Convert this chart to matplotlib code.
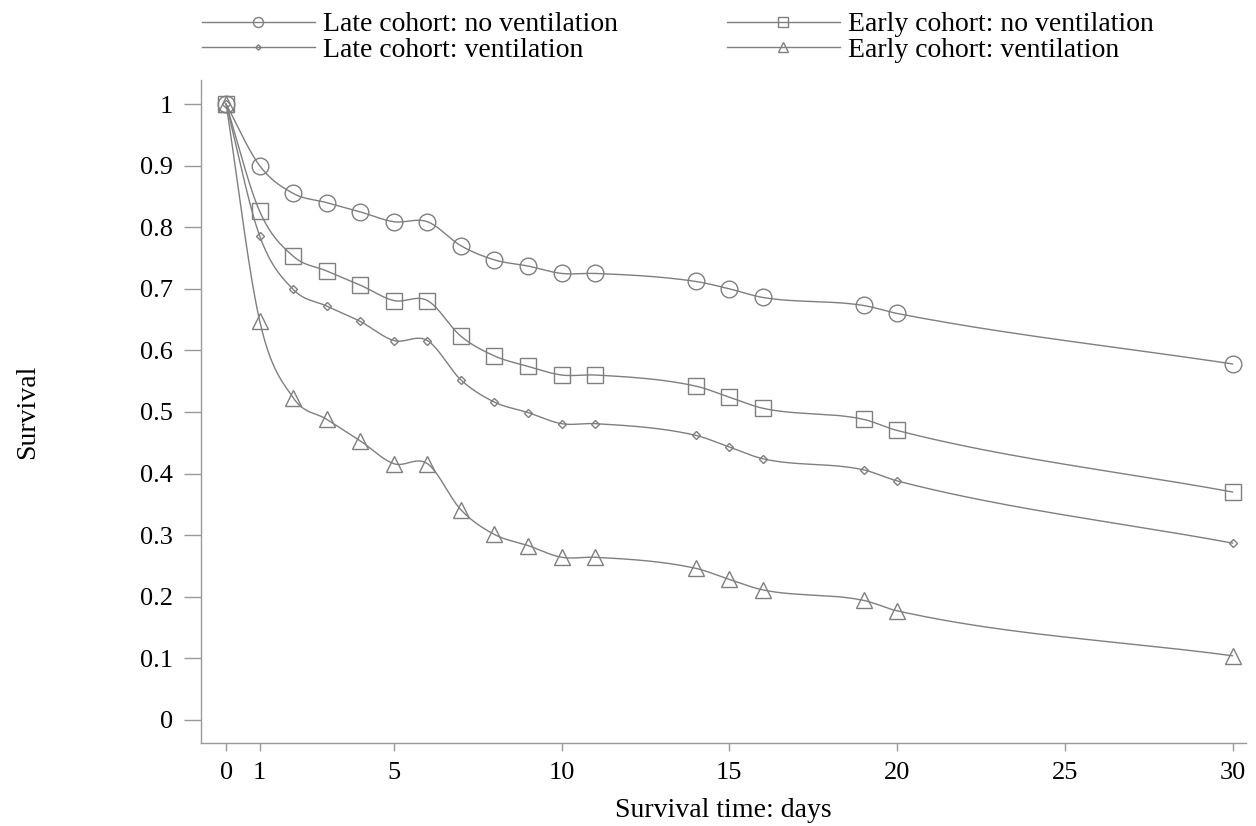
import numpy as np
import matplotlib
matplotlib.use("Agg")
import matplotlib.pyplot as plt

plt.rcParams['font.family'] = ['Liberation Serif', 'DejaVu Serif']

# survival estimates
days = [0, 1, 2, 3, 4, 5, 6, 7, 8, 9, 10, 11, 14, 15, 16, 19, 20, 30]
late_novent = [1.0, 0.900, 0.855, 0.840, 0.825, 0.809, 0.809, 0.770, 0.747, 0.737,
               0.725, 0.725, 0.712, 0.700, 0.686, 0.673, 0.660, 0.578]
early_novent = [1.0, 0.826, 0.753, 0.729, 0.706, 0.681, 0.681, 0.623, 0.591, 0.574,
                0.560, 0.560, 0.542, 0.524, 0.506, 0.488, 0.470, 0.370]
late_vent = [1.0, 0.786, 0.699, 0.672, 0.647, 0.616, 0.616, 0.552, 0.516, 0.499,
             0.481, 0.481, 0.462, 0.443, 0.424, 0.406, 0.388, 0.287]
early_vent = [1.0, 0.648, 0.523, 0.488, 0.453, 0.416, 0.416, 0.341, 0.301, 0.283,
              0.264, 0.264, 0.246, 0.228, 0.211, 0.194, 0.177, 0.104]

labels = ["Late cohort: no ventilation", "Late cohort: ventilation",
          "Early cohort: no ventilation", "Early cohort: ventilation"]
xticks = [0, 1, 5, 10, 15, 20, 25, 30]
yticks = [0, 0.1, 0.2, 0.3, 0.4, 0.5, 0.6, 0.7, 0.8, 0.9, 1]
yticklabels = ["0", "0.1", "0.2", "0.3", "0.4", "0.5", "0.6", "0.7", "0.8", "0.9", "1"]


def smooth(x, y, n=40):
    # cubic hermite through the points, tangents from neighbouring secants
    x = np.asarray(x, float)
    y = np.asarray(y, float)
    sec = np.diff(y) / np.diff(x)
    m = np.empty_like(y)
    m[0] = sec[0]
    m[-1] = sec[-1]
    m[1:-1] = (sec[:-1] + sec[1:]) / 2
    xs, ys = [], []
    for i in range(len(x) - 1):
        h = x[i + 1] - x[i]
        t = np.linspace(0, 1, n)
        h00 = 2 * t**3 - 3 * t**2 + 1
        h10 = t**3 - 2 * t**2 + t
        h01 = -2 * t**3 + 3 * t**2
        h11 = t**3 - t**2
        xs.append(x[i] + t * h)
        ys.append(h00 * y[i] + h10 * h * m[i] + h01 * y[i + 1] + h11 * h * m[i + 1])
    return np.concatenate(xs), np.concatenate(ys)


gray = "#7f7f7f"
fig = plt.figure(figsize=(12.56, 8.26), dpi=100)
ax = fig.add_axes([0.160, 0.101, 0.832, 0.802])

series = [late_novent, late_vent, early_novent, early_vent]
markers = [("o", 12), ("D", 4.5), ("s", 11), ("^", 11)]
handles = []
for vals, (mk, ms), lab in zip(series, markers, labels):
    sx, sy = smooth(days, vals)
    ax.plot(sx, sy, color=gray, lw=1.0)
    ax.plot(days, vals, ls="none", marker=mk, ms=ms, mfc="none", mec=gray, mew=1.0)
    h, = ax.plot([], [], color=gray, lw=1.0, marker=mk, ms=ms * 0.6, mfc="none",
                 mec=gray, mew=1.0, label=lab)
    handles.append(h)

ax.set_xlim(-0.75, 30.4)
ax.set_ylim(-0.037, 1.039)
ax.set_xticks(xticks)
ax.set_yticks(yticks)
ax.set_yticklabels(yticklabels)
for s in ["top", "right"]:
    ax.spines[s].set_visible(False)
for s in ["left", "bottom"]:
    ax.spines[s].set_color("#999999")
    ax.spines[s].set_linewidth(1.0)
ax.tick_params(axis="both", direction="out", width=1.0, color="#999999", labelsize=19)
ax.tick_params(axis="y", length=12, pad=8)
ax.tick_params(axis="x", length=6, pad=8)
ax.set_xlabel("Survival time: days", fontsize=20, labelpad=10)
ax.set_ylabel("Survival", fontsize=20, labelpad=72)

fig.legend(handles=handles, loc="upper left", bbox_to_anchor=(0.141, 1.016), ncol=2,
           frameon=False, fontsize=20, handlelength=4.05, columnspacing=3.93,
           handletextpad=0.3, labelspacing=0.0)

fig.savefig("out.png", dpi=100)
